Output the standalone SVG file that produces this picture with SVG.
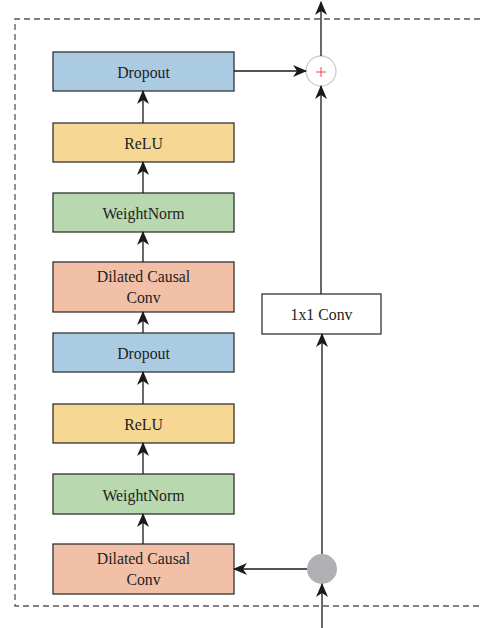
<svg xmlns="http://www.w3.org/2000/svg" width="482" height="628" viewBox="0 0 482 628">
<defs>
<marker id="ah" markerWidth="14" markerHeight="12" viewBox="0 0 14 12" refX="13" refY="6" orient="auto" markerUnits="userSpaceOnUse">
<path d="M0,0 L14,6 L0,12 L4,6 Z" fill="#1a1a1a"/>
</marker>
<style>
.box{stroke:#333;stroke-width:1.3}
.blue{fill:#abcbe2}
.yellow{fill:#f6d894}
.green{fill:#b8d8b0}
.salmon{fill:#f2c0a6}
.lbl{font-family:"Liberation Serif","Times New Roman","DejaVu Serif",serif;font-size:15.8px;fill:#222;text-anchor:middle;dominant-baseline:central}
.edge{stroke:#1a1a1a;stroke-width:1.3;fill:none;marker-end:url(#ah)}
</style>
</defs>
<rect width="482" height="628" fill="#fff"/>
<path d="M490,19 H15 V606 H490" fill="none" stroke="#555" stroke-width="1.3" stroke-dasharray="6,4"/>
<g id="dropout1"><rect class="box blue" x="53" y="52" width="181" height="39"/><text class="lbl" x="143.5" y="72">Dropout</text></g>
<g id="relu1"><rect class="box yellow" x="53" y="123" width="181" height="39"/><text class="lbl" x="143.5" y="143">ReLU</text></g>
<g id="weightnorm1"><rect class="box green" x="53" y="193" width="181" height="39"/><text class="lbl" x="143.5" y="213">WeightNorm</text></g>
<g id="dilated1"><rect class="box salmon" x="53" y="262" width="181" height="50"/><text class="lbl" x="143.5" y="276">Dilated Causal</text><text class="lbl" x="143.5" y="297">Conv</text></g>
<g id="dropout2"><rect class="box blue" x="53" y="333" width="181" height="39"/><text class="lbl" x="143.5" y="353">Dropout</text></g>
<g id="relu2"><rect class="box yellow" x="53" y="404" width="181" height="39"/><text class="lbl" x="143.5" y="424">ReLU</text></g>
<g id="weightnorm2"><rect class="box green" x="53" y="474" width="181" height="40"/><text class="lbl" x="143.5" y="495">WeightNorm</text></g>
<g id="dilated2"><rect class="box salmon" x="53" y="544" width="181" height="50"/><text class="lbl" x="143.5" y="558">Dilated Causal</text><text class="lbl" x="143.5" y="579">Conv</text></g>
<g id="conv1x1"><rect x="262" y="294" width="119" height="40" fill="#fff" stroke="#333" stroke-width="1.3"/><text class="lbl" x="321.5" y="314">1x1 Conv</text></g>
<g id="add"><circle cx="321" cy="71" r="15" fill="#fff" stroke="#ccc" stroke-width="1.3"/><path d="M316,72 H326 M321,67 V77" stroke="#e8474f" stroke-width="1"/></g>
<g id="split"><circle cx="322" cy="569" r="15" fill="#b1b1b5"/></g>
<g id="connectors">
<line class="edge" x1="143" y1="123" x2="143" y2="91"/>
<line class="edge" x1="143" y1="193" x2="143" y2="162"/>
<line class="edge" x1="143" y1="262" x2="143" y2="232"/>
<line class="edge" x1="143" y1="333" x2="143" y2="312"/>
<line class="edge" x1="143" y1="404" x2="143" y2="372"/>
<line class="edge" x1="143" y1="474" x2="143" y2="443"/>
<line class="edge" x1="143" y1="544" x2="143" y2="514"/>
<line class="edge" x1="234" y1="71" x2="306" y2="71"/>
<line class="edge" x1="321" y1="56" x2="321" y2="2"/>
<line class="edge" x1="321" y1="294" x2="321" y2="86"/>
<line class="edge" x1="322" y1="554" x2="322" y2="334"/>
<line class="edge" x1="307" y1="569" x2="234" y2="569"/>
<line class="edge" x1="322" y1="628" x2="322" y2="584"/>
</g>
</svg>
